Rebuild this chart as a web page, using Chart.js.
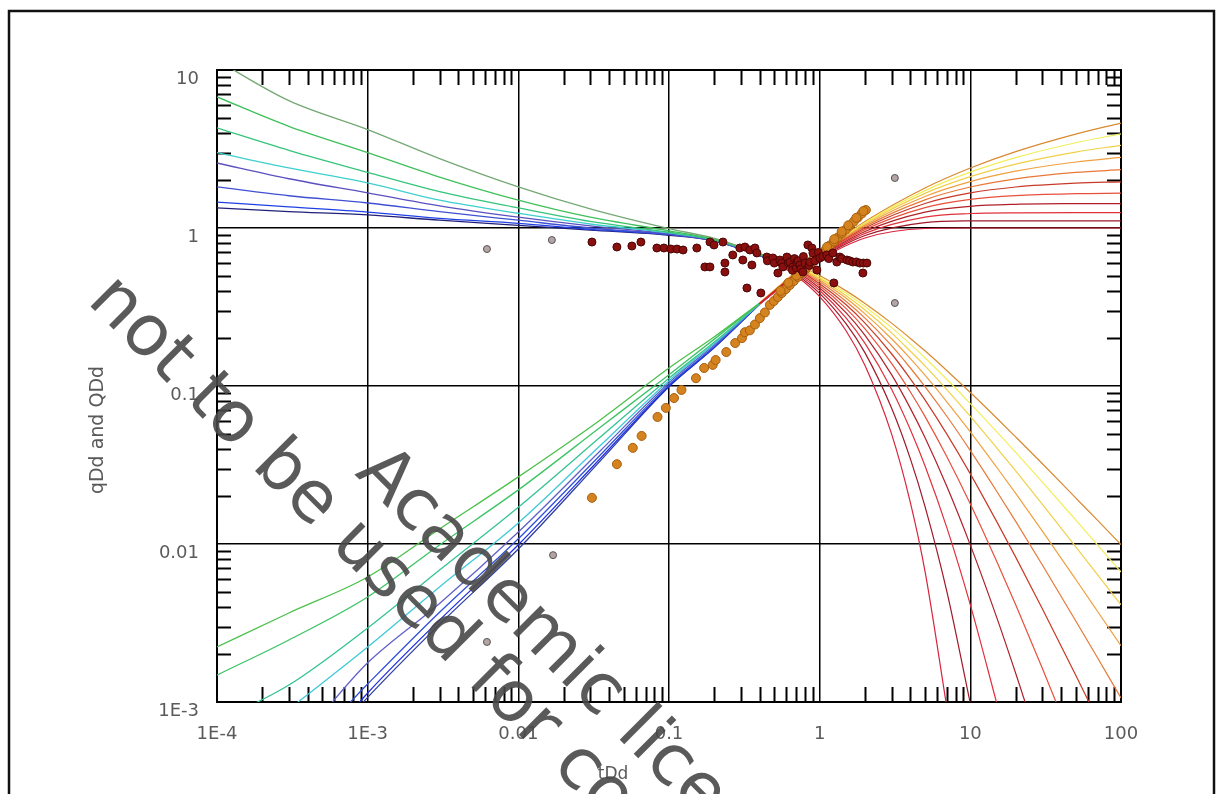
<!DOCTYPE html>
<html>
<head>
<meta charset="utf-8">
<script src="https://cdn.jsdelivr.net/npm/chart.js@4.4.1/dist/chart.umd.min.js"></script>
<style>
  html, body { margin: 0; padding: 0; background: #fff; }
  canvas { display: block; }
</style>
</head>
<body>
<canvas id="typeCurves" width="1216" height="794"></canvas>
<script>
// axis decades and their labels
const xTickValues = [1e-4, 1e-3, 0.01, 0.1, 1, 10, 100];
const xTickLabels = ['1E-4', '1E-3', '0.01', '0.1', '1', '10', '100'];
const yTickValues = [1e-3, 0.01, 0.1, 1, 10];
const yTickLabels = ['1E-3', '0.01', '0.1', '1', '10'];

// transient rate stems qDd (one row per re/rw)
const stemRateT = [1e-4, 3e-4, 1e-3, 3e-3, 0.01, 0.03, 0.1, 0.2, 0.5];
const stemRates = [
  [11.5, 6.4, 4.2, 2.75, 1.82, 1.32, 0.99, 0.86, 0.64],
  [6.75, 4.4, 3.0, 2.1, 1.50, 1.17, 0.96, 0.85, 0.64],
  [4.3, 3.1, 2.25, 1.7, 1.34, 1.1, 0.94, 0.84, 0.63],
  [3.0, 2.4, 1.93, 1.5, 1.24, 1.06, 0.93, 0.84, 0.63],
  [2.58, 2.05, 1.67, 1.38, 1.17, 1.03, 0.92, 0.83, 0.63],
  [1.82, 1.6, 1.44, 1.27, 1.12, 1.0, 0.91, 0.83, 0.62],
  [1.46, 1.36, 1.26, 1.15, 1.07, 0.98, 0.91, 0.83, 0.62],
  [1.34, 1.27, 1.21, 1.12, 1.04, 0.97, 0.90, 0.83, 0.62]
];
const stemRateColors = ['#74a874', '#3ec05a', '#34c47a', '#3ecfcf', '#5a50c0', '#4050d4', '#2040e4', '#20207a'];

// transient cumulative stems QDd
const stemCumT = [1e-4, 3e-4, 1e-3, 3e-3, 0.01, 0.035, 0.1, 0.2, 0.4];
const stemCums = [
  [0.00223, 0.00366, 0.00618, 0.01245, 0.0266, 0.061, 0.130, 0.205, 0.335],
  [0.00148, 0.00247, 0.00462, 0.00986, 0.022, 0.0548, 0.118, 0.198, 0.335],
  [0.00075, 0.00128, 0.00294, 0.00684, 0.0171, 0.0475, 0.112, 0.190, 0.333],
  [0.0004, 0.0009, 0.00223, 0.00535, 0.0136, 0.042, 0.108, 0.186, 0.332],
  [0.00025, 0.0005, 0.00177, 0.0042, 0.0119, 0.0389, 0.105, 0.182, 0.33],
  [0.0002, 0.0004, 0.0013, 0.0037, 0.0108, 0.0366, 0.102, 0.178, 0.33],
  [0.00015, 0.0003, 0.00114, 0.0033, 0.0099, 0.0348, 0.100, 0.176, 0.33],
  [0.0001, 0.0003, 0.00107, 0.0031, 0.0093, 0.0336, 0.099, 0.175, 0.33]
];
const stemCumColors = ['#4cc04c', '#3cc464', '#34c490', '#40c8d8', '#6060c8', '#3050d8', '#2030e0', '#3040a0'];

// Arps depletion stems, b = 0 .. 1
const arpsB = ['0', '0.1', '0.2', '0.3', '0.4', '0.5', '0.6', '0.7', '0.8', '0.9', '1'];
const arpsColors = ['#d8243c', '#a01828', '#e0303c', '#b02028', '#e8503c', '#c83a28', '#e87838', '#f0a040', '#f0d048', '#f2ee5a', '#d88a30'];
const arpsCumT = [0.4, 0.7, 1, 2, 5, 10, 20, 50, 100];
const arpsCums = [
  [0.330, 0.503, 0.632, 0.865, 0.993, 1.0, 1.0, 1.0, 1.0],
  [0.330, 0.507, 0.640, 0.896, 1.082, 1.109, 1.111, 1.111, 1.111],
  [0.331, 0.510, 0.647, 0.925, 1.172, 1.235, 1.248, 1.250, 1.250],
  [0.332, 0.513, 0.654, 0.951, 1.260, 1.372, 1.413, 1.426, 1.428],
  [0.333, 0.516, 0.661, 0.977, 1.346, 1.518, 1.605, 1.649, 1.660],
  [0.333, 0.519, 0.667, 1.0, 1.429, 1.667, 1.818, 1.923, 1.961],
  [0.334, 0.521, 0.672, 1.022, 1.508, 1.817, 2.048, 2.247, 2.339],
  [0.335, 0.524, 0.678, 1.043, 1.584, 1.966, 2.289, 2.616, 2.797],
  [0.335, 0.526, 0.684, 1.063, 1.657, 2.113, 2.538, 3.024, 3.333],
  [0.336, 0.528, 0.688, 1.081, 1.725, 2.257, 2.790, 3.465, 3.942],
  [0.336, 0.531, 0.693, 1.099, 1.792, 2.398, 3.045, 3.932, 4.615]
];
const arpsRateT = [0.5, 0.7, 1, 1.5, 2, 3, 4, 5, 7, 10, 15, 20, 30, 50, 70, 100];
const arpsRates = [
  [0.607, 0.497, 0.368, 0.223, 0.135, 0.0498, 0.0183, 0.00674, 0.000912],
  [0.614, 0.508, 0.386, 0.247, 0.162, 0.0725, 0.0346, 0.0173, 0.00496, 0.000977],
  [0.621, 0.519, 0.402, 0.269, 0.186, 0.0954, 0.0529, 0.0313, 0.0126, 0.00412, 0.000977],
  [0.628, 0.530, 0.417, 0.290, 0.209, 0.118, 0.0722, 0.0472, 0.0230, 0.00984, 0.00341, 0.00152, 0.000464],
  [0.634, 0.540, 0.431, 0.309, 0.230, 0.139, 0.0917, 0.0642, 0.0355, 0.0179, 0.00771, 0.00412, 0.00164, 0.000494],
  [0.640, 0.549, 0.444, 0.327, 0.250, 0.160, 0.111, 0.0816, 0.0494, 0.0278, 0.0138, 0.00826, 0.00391, 0.00148, 0.000772],
  [0.646, 0.557, 0.457, 0.343, 0.269, 0.180, 0.130, 0.0992, 0.0641, 0.0390, 0.0215, 0.0139, 0.00739, 0.00327, 0.00190, 0.00106],
  [0.651, 0.566, 0.469, 0.359, 0.286, 0.199, 0.149, 0.117, 0.0792, 0.0513, 0.0305, 0.0209, 0.0121, 0.00598, 0.00374, 0.00227],
  [0.657, 0.574, 0.480, 0.373, 0.303, 0.217, 0.166, 0.134, 0.0945, 0.0642, 0.0405, 0.0290, 0.0179, 0.00964, 0.00638, 0.00412],
  [0.662, 0.581, 0.490, 0.387, 0.319, 0.234, 0.184, 0.151, 0.110, 0.0774, 0.0513, 0.0380, 0.0247, 0.0142, 0.00984, 0.00665],
  [0.667, 0.588, 0.500, 0.400, 0.333, 0.250, 0.200, 0.167, 0.125, 0.0909, 0.0625, 0.0476, 0.0323, 0.0196, 0.0141, 0.0099]
];

// well data: rate qDd
const rateT = [0.0308, 0.0451, 0.0567, 0.0651, 0.0831, 0.0925, 0.103, 0.113, 0.124, 0.153, 0.187, 0.199, 0.228,
  0.173, 0.187, 0.235, 0.235, 0.265, 0.295, 0.309, 0.319, 0.329, 0.344, 0.355, 0.372, 0.383, 0.407, 0.446,
  0.45, 0.489, 0.50, 0.528, 0.544, 0.56, 0.570, 0.606, 0.62, 0.634, 0.664, 0.66, 0.68, 0.70, 0.706, 0.72,
  0.739, 0.75, 0.774, 0.78, 0.80, 0.835, 0.85, 0.861, 0.888, 0.902, 0.93, 0.958, 0.98, 1.003, 1.05, 1.116,
  1.15, 1.223, 1.242, 1.30, 1.361, 1.40, 1.516, 1.58, 1.661, 1.75, 1.849, 1.936, 1.95, 2.057];
const rateQ = [0.815, 0.758, 0.769, 0.815, 0.747, 0.747, 0.736, 0.736, 0.726, 0.747, 0.815, 0.781, 0.815,
  0.567, 0.567, 0.600, 0.527, 0.675, 0.747, 0.627, 0.758, 0.417, 0.726, 0.583, 0.747, 0.695, 0.388, 0.655,
  0.62, 0.646, 0.60, 0.519, 0.627, 0.60, 0.567, 0.655, 0.60, 0.609, 0.567, 0.54, 0.64, 0.56, 0.609, 0.62,
  0.583, 0.55, 0.527, 0.66, 0.60, 0.781, 0.58, 0.609, 0.747, 0.695, 0.62, 0.542, 0.70, 0.646, 0.66, 0.675,
  0.64, 0.695, 0.449, 0.609, 0.655, 0.64, 0.627, 0.62, 0.609, 0.61, 0.600, 0.519, 0.60, 0.600];

// well data: cumulative QDd
const cumT = [0.0308, 0.0451, 0.0575, 0.0658, 0.0839, 0.0953, 0.108, 0.121, 0.151, 0.171, 0.195, 0.204, 0.240,
  0.275, 0.305, 0.319, 0.344, 0.372, 0.401, 0.433, 0.467, 0.497, 0.528, 0.561, 0.597, 0.634, 0.674, 0.717,
  0.762, 0.810, 0.861, 0.915, 0.973, 1.034, 1.099, 1.169, 1.242, 1.321, 1.404, 1.493, 1.587, 1.686, 1.793,
  1.905, 2.026, 0.55, 0.62, 0.70, 0.80, 0.90, 1.0, 1.12, 1.25, 1.40, 1.55, 1.75, 1.95];
const cumQ = [0.0196, 0.032, 0.0406, 0.0483, 0.0637, 0.0727, 0.0839, 0.0944, 0.112, 0.130, 0.136, 0.146, 0.164,
  0.187, 0.201, 0.219, 0.225, 0.245, 0.269, 0.292, 0.326, 0.345, 0.366, 0.388, 0.411, 0.436, 0.462, 0.490,
  0.519, 0.550, 0.583, 0.618, 0.650, 0.690, 0.731, 0.775, 0.822, 0.871, 0.923, 0.978, 1.037, 1.099, 1.166,
  1.235, 1.300, 0.40, 0.45, 0.50, 0.56, 0.63, 0.69, 0.76, 0.85, 0.95, 1.04, 1.16, 1.28];

// excluded points
const greyT = [0.00619, 0.0167, 3.155, 0.00619, 0.0170, 3.155];
const greyQ = [0.736, 0.839, 0.335, 0.0024, 0.0085, 2.073];

const toPoints = (xs, ys) => ys.map((y, i) => ({ x: xs[i], y: y }));

const datasets = [];
datasets.push({
  label: 'qDd', data: toPoints(rateT, rateQ), order: 0,
  pointRadius: 4, pointBackgroundColor: '#8a1010', pointBorderColor: '#4a0505', pointBorderWidth: 1
});
datasets.push({
  label: 'QDd', data: toPoints(cumT, cumQ), order: 0,
  pointRadius: 4.5, pointBackgroundColor: '#d4831f', pointBorderColor: '#a8600f', pointBorderWidth: 1
});
datasets.push({
  label: 'excluded', data: toPoints(greyT, greyQ), order: 0,
  pointRadius: 3.5, pointBackgroundColor: '#b4a4a4', pointBorderColor: '#555', pointBorderWidth: 1
});

const curve = (xs, ys, color, w) => ({
  data: toPoints(xs, ys), order: 1, showLine: true, pointRadius: 0,
  borderColor: color, borderWidth: w, cubicInterpolationMode: 'monotone'
});
arpsRates.forEach((r, i) => datasets.push(curve(arpsRateT, r, arpsColors[i], 1.2)));
arpsCums.forEach((r, i) => datasets.push(curve(arpsCumT, r, arpsColors[i], 1.2)));
stemRates.forEach((r, i) => datasets.push(curve(stemRateT, r, stemRateColors[i], 1.3)));
stemCums.forEach((r, i) => datasets.push(curve(stemCumT, r, stemCumColors[i], 1.3)));

const minorValues = (lo, hi) => {
  const out = [];
  for (let e = Math.round(Math.log10(lo)); e < Math.round(Math.log10(hi)); e++) {
    for (let m = 2; m < 10; m++) out.push(m * Math.pow(10, e));
  }
  return out;
};

// white page, outer frame, inner minor ticks
const framePlugin = {
  id: 'frame',
  beforeDraw(chart) {
    const ctx = chart.ctx;
    ctx.save();
    ctx.fillStyle = '#fff';
    ctx.fillRect(0, 0, chart.width, chart.height);
    ctx.restore();
  },
  beforeDatasetsDraw(chart) {
    const { ctx, chartArea: a, scales } = chart;
    ctx.save();
    ctx.strokeStyle = '#000';
    ctx.lineWidth = 2;
    ctx.beginPath();
    minorValues(1e-4, 100).forEach(v => {
      const px = Math.round(scales.x.getPixelForValue(v)) + 0.5;
      ctx.moveTo(px, a.bottom); ctx.lineTo(px, a.bottom - 15);
      ctx.moveTo(px, a.top); ctx.lineTo(px, a.top + 15);
    });
    minorValues(1e-3, 10).forEach(v => {
      const py = Math.round(scales.y.getPixelForValue(v)) + 0.5;
      ctx.moveTo(a.left, py); ctx.lineTo(a.left + 14, py);
      ctx.moveTo(a.right, py); ctx.lineTo(a.right - 14, py);
    });
    ctx.stroke();
    ctx.strokeRect(a.left, a.top, a.right - a.left, a.bottom - a.top);
    ctx.restore();
  },
  afterDraw(chart) {
    const ctx = chart.ctx;
    ctx.save();
    // axis titles
    ctx.fillStyle = '#5a5a5a';
    ctx.textAlign = 'center';
    ctx.textBaseline = 'middle';
    ctx.font = '17px "DejaVu Sans"';
    ctx.fillText('tDd', 613, 775);
    ctx.translate(98, 430);
    ctx.rotate(-Math.PI / 2);
    ctx.font = '19px "DejaVu Sans"';
    ctx.fillText('qDd and QDd', 0, 0);
    ctx.restore();

    // licence stamp
    ctx.save();
    ctx.font = '71px "DejaVu Sans"';
    ctx.fillStyle = 'rgba(72,72,72,0.9)';
    ctx.textAlign = 'left';
    ctx.textBaseline = 'alphabetic';
    ctx.save();
    ctx.translate(86, 302);
    ctx.rotate(Math.PI / 4);
    ctx.fillText('not to be used for commercial purposes', 0, 0);
    ctx.restore();
    ctx.save();
    ctx.translate(354, 474);
    ctx.rotate(Math.PI / 4);
    ctx.fillText('Academic licence', 0, 0);
    ctx.restore();
    ctx.restore();

    // page border
    ctx.save();
    ctx.strokeStyle = '#111';
    ctx.lineWidth = 2.5;
    ctx.strokeRect(9, 11, 1205, 900);
    ctx.restore();
  }
};

Chart.defaults.font.family = '"DejaVu Sans"';

new Chart(document.getElementById('typeCurves').getContext('2d'), {
  type: 'scatter',
  data: { datasets: datasets },
  options: {
    responsive: false,
    devicePixelRatio: 1,
    animation: false,
    layout: { padding: { top: 70, right: 95, bottom: 0, left: 0 } },
    plugins: { legend: { display: false }, tooltip: { enabled: false } },
    scales: {
      x: {
        type: 'logarithmic',
        min: 1e-4,
        max: 100,
        afterBuildTicks: axis => { axis.ticks = xTickValues.map(v => ({ value: v })); },
        afterFit: axis => { axis.height = 92; },
        grid: { color: '#000', lineWidth: 1.5, drawTicks: false },
        border: { display: false },
        ticks: {
          autoSkip: false, maxRotation: 0, padding: 22,
          color: '#5a5a5a', font: { size: 18 },
          callback: (value, index) => xTickLabels[index]
        }
      },
      y: {
        type: 'logarithmic',
        min: 1e-3,
        max: 10,
        afterBuildTicks: axis => { axis.ticks = yTickValues.map(v => ({ value: v })); },
        afterFit: axis => { axis.width = 217; },
        grid: { color: '#000', lineWidth: 1.5, drawTicks: false },
        border: { display: false },
        ticks: {
          autoSkip: false, padding: 18, labelOffset: 9,
          color: '#5a5a5a', font: { size: 18 },
          callback: (value, index) => yTickLabels[index]
        }
      }
    }
  },
  plugins: [framePlugin]
});
</script>
</body>
</html>
